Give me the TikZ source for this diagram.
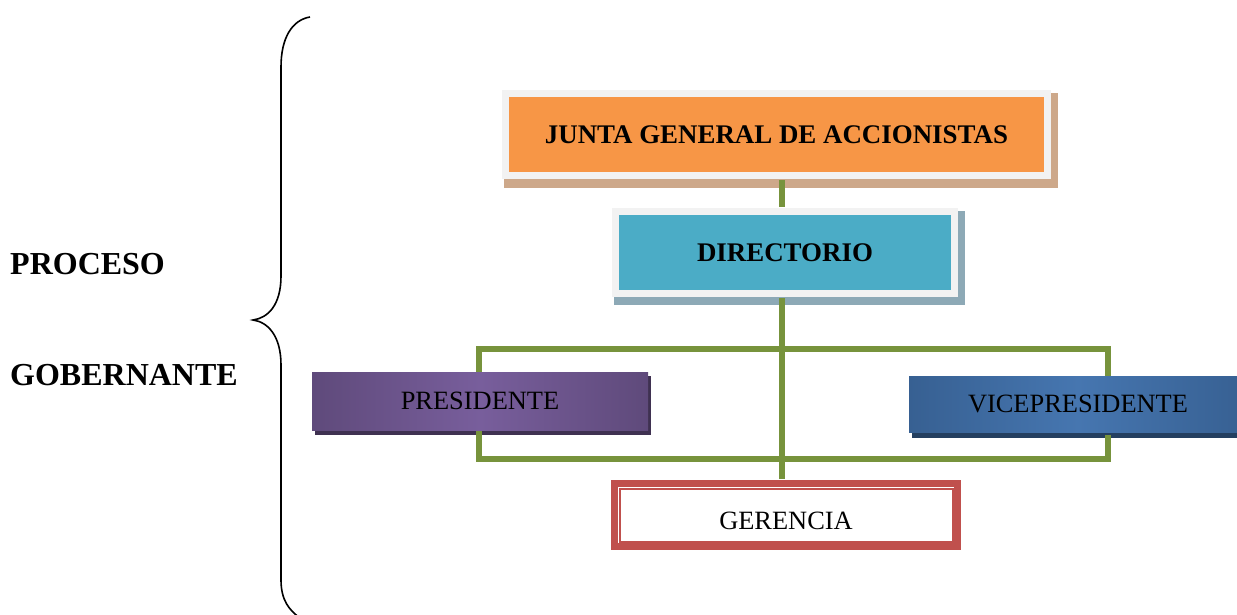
\documentclass[tikz,border=0pt]{standalone}
\usepackage{fontspec}
\setmainfont{Liberation Serif}
\usetikzlibrary{backgrounds,calc}
\definecolor{orangeC}{HTML}{F79646}
\definecolor{tealC}{HTML}{4BACC6}
\definecolor{frameC}{HTML}{F2F2F2}
\definecolor{jshadowC}{HTML}{CDA88A}
\definecolor{dshadowC}{HTML}{8DA9B6}
\definecolor{purpE}{HTML}{5F4A7B}
\definecolor{purpM}{HTML}{785E9C}
\definecolor{purpS}{HTML}{3F3151}
\definecolor{blueE}{HTML}{376092}
\definecolor{blueM}{HTML}{4676B0}
\definecolor{blueS}{HTML}{243F60}
\definecolor{greenC}{HTML}{77933C}
\definecolor{redC}{HTML}{C0504D}
\tikzset{
  boxtext/.style={font=\fontsize{26.4}{30}\selectfont, text=black, inner sep=0pt},
  framedbox/.style={boxtext, draw=frameC, line width=7pt, font=\fontsize{26.9}{30}\selectfont\bfseries},
  link/.style={draw=greenC, line width=6pt, line join=miter, line cap=rect},
  lefttext/.style={font=\fontsize{32}{36}\selectfont\bfseries, anchor=west, inner sep=0pt},
  bracepath/.style={draw=black, line width=1.6pt}
}
\begin{document}
\begin{tikzpicture}[x=1pt,y=-1pt]
\useasboundingbox (0,0) rectangle (1237,614);
\clip (0,0) rectangle (1237,614);

% nodes
\node[framedbox, fill=orangeC, minimum width=542pt, minimum height=82pt] (junta) at (776.5,134.5) {JUNTA GENERAL DE ACCIONISTAS};
\node[framedbox, fill=tealC, minimum width=339pt, minimum height=82pt] (dir) at (785,252.5) {DIRECTORIO};
\node[boxtext, left color=purpE, right color=purpE, middle color=purpM, minimum width=336pt, minimum height=58pt] (pres) at (480,401) {PRESIDENTE};
\node[boxtext, left color=blueE, right color=blueE, middle color=blueM, minimum width=338pt, minimum height=56pt] (vice) at (1078,404) {VICEPRESIDENTE};
\node[boxtext, draw=redC, line width=7pt, fill=white, minimum width=343pt, minimum height=63pt, text height=28pt, text depth=0pt] (ger) at (786,515) {GERENCIA};
\draw[redC, line width=2pt] ([xshift=8.5pt,yshift=-8.5pt]ger.north west) rectangle ([xshift=-8.5pt,yshift=8.5pt]ger.south east);

% shadows
\begin{scope}[on background layer]
\fill[white] (0,0) rectangle (1237,614);
\fill[jshadowC] ([xshift=1.5pt,yshift=-8.5pt]junta.south west) rectangle ([xshift=6.5pt,yshift=-2.5pt]junta.north east);
\fill[dshadowC] ([xshift=1.5pt,yshift=-7.5pt]dir.south west) rectangle ([xshift=6.5pt,yshift=-2.5pt]dir.north east);
\fill[purpS] ([xshift=3pt,yshift=-5pt]pres.south west) rectangle ([xshift=3pt,yshift=-4pt]pres.north east);
\fill[blueS] ([xshift=3pt,yshift=-6pt]vice.south west) rectangle ([xshift=3pt,yshift=-4pt]vice.north east);
\end{scope}

% connectors
\coordinate (sp) at (782,0);
\coordinate (ub) at (782,349);
\coordinate (lb) at (782,459);
\begin{scope}[on background layer]
\draw[link] ([yshift=-4pt]junta.south -| sp) -- ([yshift=4pt]dir.north -| sp);
\draw[link] ([yshift=-4pt]dir.south -| sp) -- ([yshift=4pt]ger.north -| sp);
\draw[link] ([xshift=-1pt]pres.north) |- (ub) -| ([xshift=30pt]vice.north);
\draw[link] ([xshift=-1pt,yshift=-4pt]pres.south) |- (lb) -| ([xshift=30pt,yshift=-6pt]vice.south);
\end{scope}

% left texts
\node[lefttext] (proc) at (10,264) {PROCESO};
\node[lefttext] (gob) at (10,375) {GOBERNANTE};

% brace
\draw[bracepath] (310,17) .. controls (292,20) and (281,38) .. (281,67)
  -- (281,276) .. controls (281,305) and (268,318) .. (253,320)
  .. controls (268,322) and (281,336) .. (281,365)
  -- (281,580) .. controls (281,600) and (289,610) .. (300,618);
\end{tikzpicture}
\end{document}
